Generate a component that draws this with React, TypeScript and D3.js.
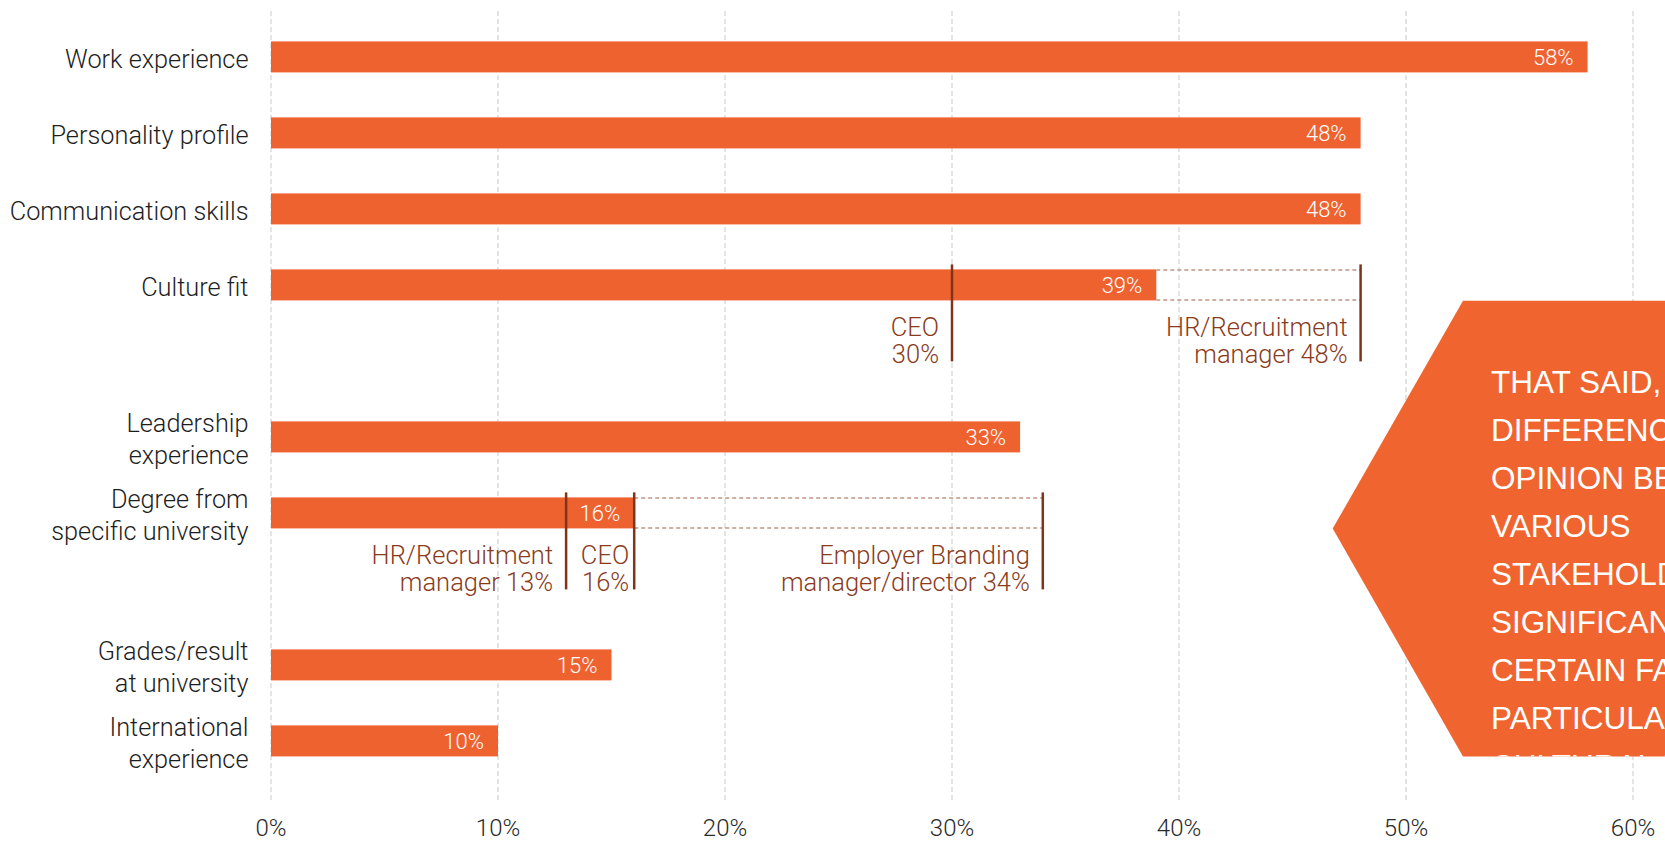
import React from "react";
import * as d3 from "d3";

// ---------- DATA ----------
const categories = [
  "Work experience",
  "Personality profile",
  "Communication skills",
  "Culture fit",
  "Leadership experience",
  "Degree from specific university",
  "Grades/result at university",
  "International experience",
];
const categoryLines = [
  ["Work experience"],
  ["Personality profile"],
  ["Communication skills"],
  ["Culture fit"],
  ["Leadership", "experience"],
  ["Degree from", "specific university"],
  ["Grades/result", "at university"],
  ["International", "experience"],
];
const values = [58, 48, 48, 39, 33, 16, 15, 10];
const ticks = [0, 10, 20, 30, 40, 50, 60];

// stakeholder breakdowns shown below some bars
const annotationCategory = ["Culture fit", "Culture fit", "Degree from specific university", "Degree from specific university", "Degree from specific university"];
const annotationLine1 = ["CEO", "HR/Recruitment", "HR/Recruitment", "CEO", "Employer Branding"];
const annotationLine2 = ["", "manager ", "manager ", "", "manager/director "];
const annotationValues = [30, 48, 13, 16, 34];

const calloutLines = [
  "THAT SAID, THERE ARE",
  "DIFFERENCES OF",
  "OPINION BETWEEN THE",
  "VARIOUS",
  "STAKEHOLDERS ON THE",
  "SIGNIFICANCE OF",
  "CERTAIN FACTORS,",
  "PARTICULARLY",
  "CULTURAL FIT",
];

// ---------- LAYOUT ----------
const W = 1665;
const H = 842;
const ORANGE = "#EE6230";
const PANEL = "#F06430";
const BROWN = "#7E3519";
const BROWN_TEXT = "#8A3B1C";
const DASH_BROWN = "#BF9584";
const LABEL_FONT = "Roboto, 'Open Sans', sans-serif";

export default function App() {
  // slots: a spacer row follows every category that carries annotations
  const slots: string[] = [];
  categories.forEach((c) => {
    slots.push(c);
    if (annotationCategory.includes(c)) slots.push("__gap_" + c);
  });

  const x = d3.scaleLinear().domain([0, 60]).range([271, 1633]);
  const y = d3
    .scaleBand<string>()
    .domain(slots)
    .range([18.9, 778.9])
    .paddingInner(0.592)
    .paddingOuter(0.296);
  const bw = y.bandwidth();

  const gridTop = 11;
  const gridBottom = 800;

  // callout panel shape
  const pTop = 300.7;
  const pBot = 756.5;
  const pLeftX = 1332.7;
  const pCornerX = 1463;
  const panelPath = `M${pCornerX},${pTop} L${W + 5},${pTop} L${W + 5},${pBot} L${pCornerX},${pBot} L${pLeftX},${(pTop + pBot) / 2} Z`;

  return (
    <svg
      width={W}
      height={H}
      viewBox={`0 0 ${W} ${H}`}
      style={{ position: "absolute", left: 0, top: 0, background: "#fff", overflow: "hidden" }}
    >
      <defs>
        <clipPath id="panelClip">
          <path d={panelPath} />
        </clipPath>
      </defs>

      {/* gridlines */}
      {ticks.map((t) => (
        <line
          key={"g" + t}
          x1={x(t)}
          x2={x(t)}
          y1={gridTop}
          y2={gridBottom}
          stroke="#c9c9c9"
          strokeWidth={1}
          strokeDasharray="5,3"
        />
      ))}

      {/* tick labels */}
      {ticks.map((t) => (
        <text
          key={"t" + t}
          x={x(t)}
          y={827.5}
          textAnchor="middle"
          dominantBaseline="central"
          fontFamily={LABEL_FONT}
          fontWeight={300}
          fontSize={24}
          fill="#2a2a2a"
        >
          {t + "%"}
        </text>
      ))}

      {/* bars */}
      {categories.map((c, i) => {
        const y0 = y(c)!;
        return (
          <g key={c}>
            <rect x={x(0)} y={y0} width={x(values[i]) - x(0)} height={bw} fill={ORANGE} />
            <text
              x={x(values[i]) - 14}
              y={y0 + bw / 2 + 1}
              textAnchor="end"
              dominantBaseline="central"
              fontFamily={LABEL_FONT}
              fontWeight={300}
              fontSize={22}
              fill="#fff"
            >
              {values[i] + "%"}
            </text>
            <text
              x={248.5}
              textAnchor="end"
              fontFamily={LABEL_FONT}
              fontWeight={300}
              fontSize={25.3}
              fill="#1e1e1e"
            >
              {categoryLines[i].map((ln, k) => (
                <tspan
                  key={k}
                  x={248.5}
                  y={y0 + bw / 2 + 2.5 + (k - (categoryLines[i].length - 1) / 2) * 32}
                  dominantBaseline="central"
                >
                  {ln}
                </tspan>
              ))}
            </text>
          </g>
        );
      })}

      {/* dashed extensions to the highest stakeholder value */}
      {categories.map((c, i) => {
        const vals = annotationValues.filter((_, j) => annotationCategory[j] === c);
        if (!vals.length) return null;
        const mx = d3.max(vals)!;
        if (mx <= values[i]) return null;
        const y0 = y(c)!;
        return (
          <g key={"ext" + c}>
            {[y0 + 0.5, y0 + bw - 0.5].map((yy, k) => (
              <line
                key={k}
                x1={x(values[i])}
                x2={x(mx)}
                y1={yy}
                y2={yy}
                stroke={DASH_BROWN}
                strokeWidth={1.5}
                strokeDasharray="4,3"
              />
            ))}
          </g>
        );
      })}

      {/* stakeholder markers */}
      {annotationValues.map((v, j) => {
        const c = annotationCategory[j];
        const y0 = y(c)!;
        const xv = x(v);
        const others = annotationValues
          .filter((_, k) => k !== j && annotationCategory[k] === c && annotationValues[k] < v)
          .map((o) => x(o));
        const prev = others.length ? d3.max(others)! : -Infinity;
        const gap = xv - prev < 90 ? 5 : 13;
        return (
          <g key={"a" + j}>
            <line x1={xv} x2={xv} y1={y0 - 5} y2={y0 + bw + 61} stroke={BROWN} strokeWidth={2.5} />
            <text
              textAnchor="end"
              fontFamily={LABEL_FONT}
              fontWeight={300}
              fontSize={25.5}
              fill={BROWN_TEXT}
            >
              <tspan x={xv - gap} y={y0 + bw + 26.5} dominantBaseline="central">
                {annotationLine1[j]}
              </tspan>
              <tspan x={xv - gap} y={y0 + bw + 54} dominantBaseline="central">
                {annotationLine2[j] + v + "%"}
              </tspan>
            </text>
          </g>
        );
      })}

      {/* callout panel */}
      <path d={panelPath} fill={PANEL} />
      <g clipPath="url(#panelClip)">
        {calloutLines.map((ln, i) => (
          <text
            key={"c" + i}
            x={1491}
            y={392.5 + i * 48}
            fontFamily="'Liberation Sans', Arial, sans-serif"
            fontSize={31.5}
            fill="#fff"
          >
            {ln}
          </text>
        ))}
      </g>
    </svg>
  );
}
